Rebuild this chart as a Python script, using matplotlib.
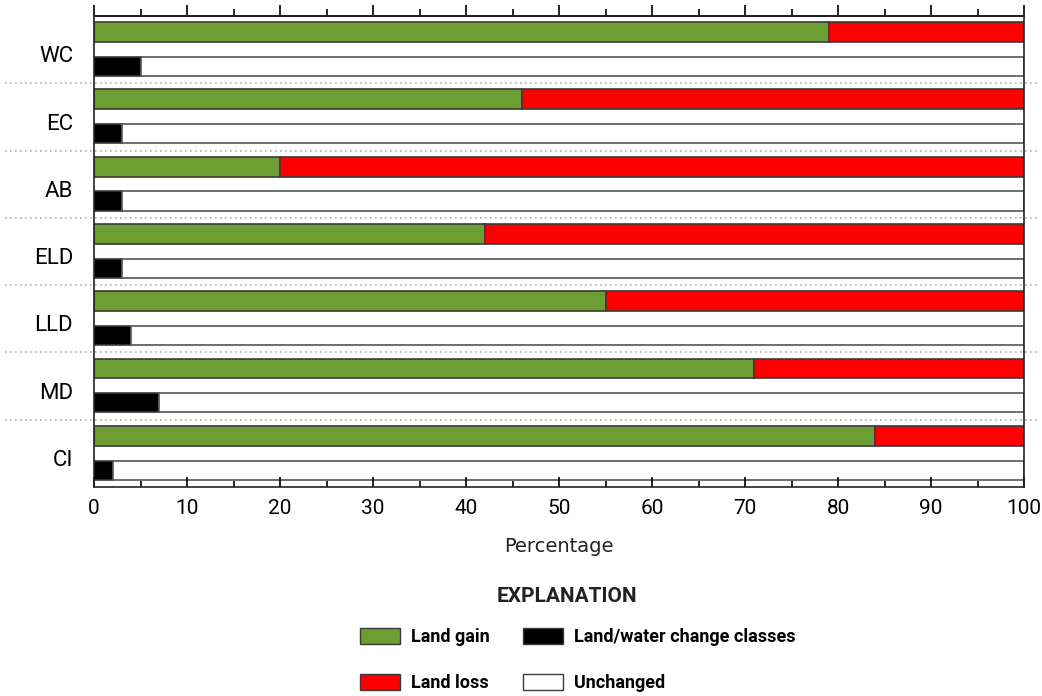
import numpy as np
import matplotlib.pyplot as plt
from matplotlib.patches import Patch

# data (percent)
regions = ["WC", "EC", "AB", "ELD", "LLD", "MD", "CI"]
land_gain = [79, 46, 20, 42, 55, 71, 84]
land_loss = [21, 54, 80, 58, 45, 29, 16]
lw_change = [5, 3, 3, 3, 4, 7, 2]
unchanged = [95, 97, 97, 97, 96, 93, 98]

green = "#6c9e31"
red = "#ff0000"
edge = "#3a3a3a"
narrow = ["Roboto", "DejaVu Sans"]

fig = plt.figure(figsize=(10.42, 6.96), dpi=100)
ax = fig.add_axes([94/1042, 1-487/696, 930/1042, 471/696])

y = np.arange(len(regions))
y_top = y + 0.238
y_bot = y + 0.75

ax.barh(y_top, land_gain, height=0.295, color=green, edgecolor=edge, lw=1.2)
ax.barh(y_top, land_loss, left=land_gain, height=0.295, color=red, edgecolor=edge, lw=1.2)
ax.barh(y_bot, lw_change, height=0.285, color="black", edgecolor=edge, lw=1.2)
ax.barh(y_bot, unchanged, left=lw_change, height=0.285, color="white", edgecolor="#555555", lw=1.2)

# dotted separators between groups, running past the axes
for b in y[1:]:
    ax.plot([-0.096, 1.017], [b, b], transform=ax.get_yaxis_transform(),
            color="#b0b0b0", ls=(0, (1, 2)), lw=1.2, clip_on=False)

ax.set_xlim(0, 100)
ax.set_ylim(len(regions), 0)
ax.set_yticks(y + 0.57)
ax.set_yticklabels(regions, fontsize=16, family=narrow)
ax.tick_params(axis="y", length=0, pad=15)

ax.set_xticks(np.arange(0, 101, 10))
ax.set_xticks(np.arange(5, 100, 10), minor=True)
ax.tick_params(axis="x", which="both", direction="in", top=False, labelsize=15, pad=9)
ax.tick_params(axis="x", which="major", length=7, width=1.2)
ax.tick_params(axis="x", which="minor", length=4, width=1.2)
for lab in ax.get_xticklabels():
    lab.set_family(narrow)

# top ticks pointing outward
sec = ax.secondary_xaxis("top")
sec.set_xticks(np.arange(0, 101, 10))
sec.set_xticks(np.arange(5, 100, 10), minor=True)
sec.tick_params(which="both", direction="out", labeltop=False, width=1.2)
sec.tick_params(which="major", length=8)
sec.tick_params(which="minor", length=5)
sec.spines["top"].set_linewidth(1.2)

for s in ax.spines.values():
    s.set_linewidth(1.2)
    s.set_color("#222222")

ax.set_xlabel("Percentage", fontsize=14, labelpad=13, color="#222222")

h_gain = Patch(facecolor=green, edgecolor=edge, label="Land gain")
h_loss = Patch(facecolor=red, edgecolor=edge, label="Land loss")
h_chg = Patch(facecolor="black", edgecolor=edge, label="Land/water change classes")
h_unc = Patch(facecolor="white", edgecolor=edge, label="Unchanged")

leg_kw = dict(loc="upper left", frameon=False, handlelength=2.2, handleheight=0.95,
              labelspacing=1.55, handletextpad=0.6, borderpad=0, borderaxespad=0,
              prop={"family": narrow, "weight": "bold", "size": 13})
leg1 = fig.legend(handles=[h_gain, h_loss], bbox_to_anchor=(360/1042, 1-628/696), **leg_kw)
leg2 = fig.legend(handles=[h_chg, h_unc], bbox_to_anchor=(523/1042, 1-628/696), **leg_kw)
fig.text(567/1042, 1-596/696, "EXPLANATION", ha="center", va="center",
         fontsize=15, fontweight="bold", family=narrow, color="#222222")

fig.savefig("out.png", dpi=100)
